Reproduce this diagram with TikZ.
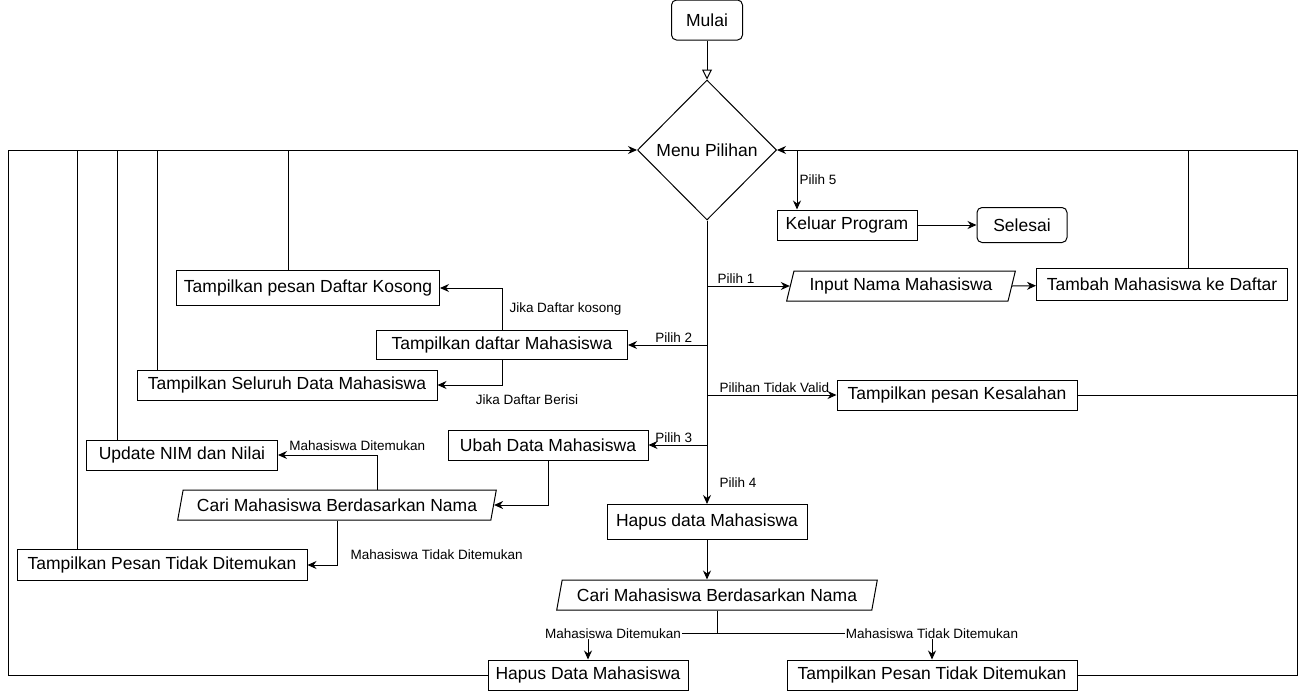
\documentclass[tikz,border=0pt]{standalone}
\usepackage{fontspec}
\setmainfont{Liberation Sans}
\usetikzlibrary{arrows.meta}
\usetikzlibrary{shapes.geometric}
\usetikzlibrary{positioning}

\begin{document}
\begin{tikzpicture}[x=1pt,y=-1pt,line width=1pt,>={Stealth[length=9pt,width=8pt]}]
\useasboundingbox (0,0) rectangle (1306,691);
\tikzstyle{box}=[draw,rectangle,inner sep=0pt,fill=white,font=\fontsize{17.5}{21}\selectfont] %%
\tikzstyle{term}=[box,rounded corners=5pt] %%
\tikzstyle{io}=[box,trapezium,trapezium left angle=69,trapezium right angle=111,trapezium stretches=true] %%
\tikzstyle{lbl}=[font=\fontsize{13.5}{16}\selectfont,inner sep=1pt] %%
\begin{scope}
\node[term,minimum width=71pt,minimum height=40pt] (mulai) at (707,20) {Mulai}; %%
\node[box,diamond,minimum width=139pt,minimum height=140pt] (menu) at (707,150) {Menu Pilihan}; %%
\node[box,minimum width=140pt,minimum height=30pt] (keluar) at (847,225) {Keluar Program}; %%
\node[term,minimum width=90pt,minimum height=35pt] (selesai) at (1022,225) {Selesai}; %%
\node[io,minimum width=229pt,minimum height=30pt] (input) at (901,286) {Input Nama Mahasiswa}; %%
\node[box,minimum width=251pt,minimum height=32pt] (tambah) at (1162,284) {Tambah Mahasiswa ke Daftar}; %%
\node[box,minimum width=263pt,minimum height=35pt] (kosong) at (308,288) {Tampilkan pesan Daftar Kosong}; %%
\node[box,minimum width=251pt,minimum height=29pt] (daftar) at (502,345) {Tampilkan daftar Mahasiswa}; %%
\node[box,minimum width=300pt,minimum height=30pt] (seluruh) at (287,385) {Tampilkan Seluruh Data Mahasiswa}; %%
\node[box,minimum width=240pt,minimum height=30pt] (salah) at (957,395) {Tampilkan pesan Kesalahan}; %%
\node[box,minimum width=200pt,minimum height=30pt] (ubah) at (548,445) {Ubah Data Mahasiswa}; %%
\node[box,minimum width=191pt,minimum height=30pt] (update) at (182,455) {Update NIM dan Nilai}; %%
\node[io,minimum width=320pt,minimum height=30pt] (cari1) at (337,505) {Cari Mahasiswa Berdasarkan Nama}; %%
\node[box,minimum width=290pt,minimum height=31pt] (tidak1) at (162,565) {Tampilkan Pesan Tidak Ditemukan}; %%
\node[box,minimum width=200pt,minimum height=35pt] (hapus1) at (707,522) {Hapus data Mahasiswa}; %%
\node[io,minimum width=322pt,minimum height=30pt] (cari2) at (717,595) {Cari Mahasiswa Berdasarkan Nama}; %%
\node[box,minimum width=200pt,minimum height=30pt] (hapus2) at (588,675) {Hapus Data Mahasiswa}; %%
\node[box,minimum width=290pt,minimum height=30pt] (tidak2) at (932,675) {Tampilkan Pesan Tidak Ditemukan};
\end{scope}
\coordinate (lft) at (8,150); %%
\coordinate (rgt) at (1297,150); %%
% loops back to the menu
\draw[->] (hapus2.west) -| (lft) -- (menu.west); %%
\draw ([xshift=61pt]tidak1.north west) |- (lft); %%
\draw ([xshift=31pt]update.north west) |- (lft); %%
\draw ([xshift=21pt]seluruh.north west) |- (lft); %%
\draw ([xshift=-20pt]kosong.north) |- (lft); %%
\draw[->] (tidak2.east) -| (rgt) -- (menu.east); %%
\draw (salah.east) -- (salah.east -| rgt); %%
\draw ([xshift=26pt]tambah.north) |- (rgt); %%
% start and exit
\draw[-{Triangle[open,length=10pt,width=10pt]}] (mulai) -- (menu); %%
\draw[->] ([xshift=-50pt]keluar.north |- menu.east) -- ([xshift=-50pt]keluar.north) node[lbl,midway,right=1pt] {Pilih 5}; %%
\draw[->] (keluar) -- (selesai); %%
% menu choices
\draw[->] (menu) -- (hapus1) node[lbl,pos=0.925,right=11pt] {Pilih 4}; %%
\draw[->] (menu.south |- input.left side) -- (input.left side) node[lbl,pos=0.35,above=1pt] {Pilih 1}; %%
\draw[->] (input.right side) -- (tambah); %%
\draw[->] (menu.south |- daftar.east) -- (daftar.east) node[lbl,pos=0.42,above=1pt] {Pilih 2}; %%
\draw[->] (daftar.north) |- (kosong.east) node[lbl,pos=0.25,right=6pt] {Jika Daftar kosong}; %%
\draw[->] (daftar.south) |- (seluruh.east) node[lbl,pos=0.5,below=8pt,xshift=25pt] {Jika Daftar Berisi}; %%
\draw[->] (menu.south |- salah.west) -- (salah.west) node[lbl,pos=0.52,above=1pt] {Pilihan Tidak Valid}; %%
\draw[->] (menu.south |- ubah.east) -- (ubah.east) node[lbl,pos=0.57,above=1pt] {Pilih 3}; %%
\draw[->] (ubah.south) |- (cari1.right side); %%
\draw[->] ([xshift=40pt]cari1.north) |- (update.east) node[lbl,pos=0.6,above=3pt] {Mahasiswa Ditemukan}; %%
\draw[->] (cari1.south) |- (tidak1.east) node[lbl,pos=0.5,anchor=south west,xshift=12pt,yshift=4pt] {Mahasiswa Tidak Ditemukan}; %%
\draw[->] (hapus1) -- (hapus1 |- cari2.north); %%
\draw[->] (cari2.south) -- ++(0,23) -| (hapus2) node[lbl,pos=0.5,fill=white,xshift=25pt] {Mahasiswa Ditemukan}; %%
\draw[->] (cari2.south) -- ++(0,23) -| (tidak2) node[lbl,pos=0.5,fill=white] {Mahasiswa Tidak Ditemukan}; %%
\end{tikzpicture}
\end{document}
